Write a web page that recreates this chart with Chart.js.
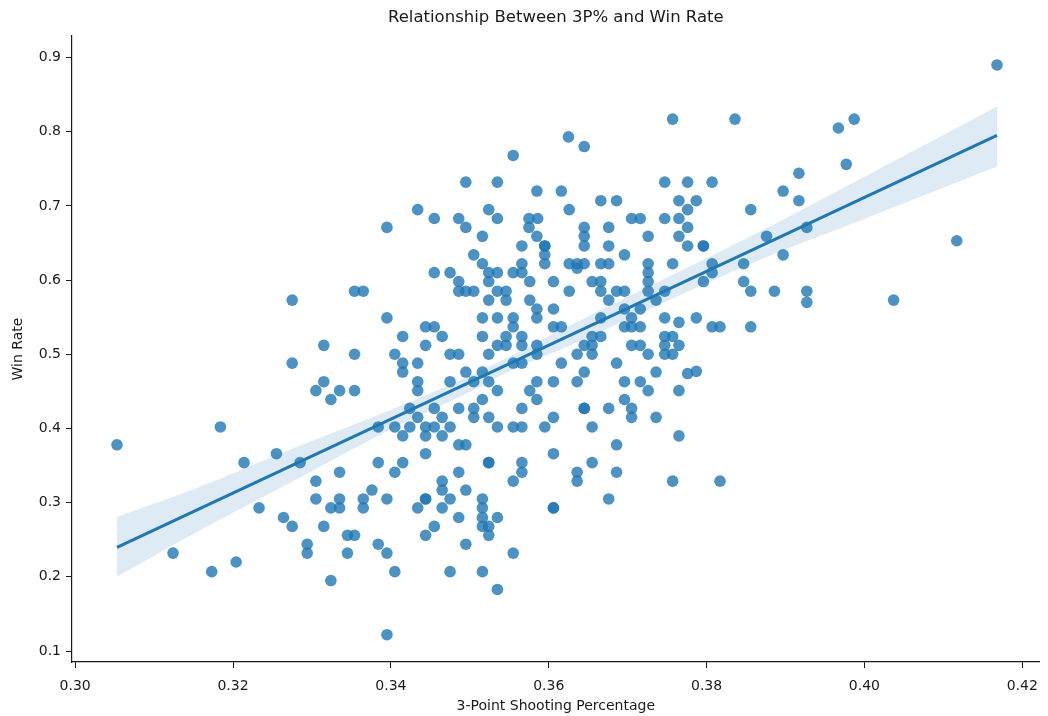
<!DOCTYPE html>
<html>
<head>
<meta charset="utf-8">
<title>Relationship Between 3P% and Win Rate</title>
<script src="https://cdn.jsdelivr.net/npm/chart.js@4.4.1/dist/chart.umd.min.js"></script>
<style>
  html, body { margin: 0; padding: 0; background: #fff; }
  #wrap { width: 1048px; height: 716px; }
</style>
</head>
<body>
<div id="wrap"><canvas id="chart" width="1048" height="716"></canvas></div>
<script>
// one entry per team season: 3-point % and win rate
const threePct = [
  // below 0.334
  0.3275, 0.3315, 0.3275, 0.3315, 0.3305, 0.3335, 0.3324, 0.3184, 0.3053, 0.3214,
  0.3255, 0.3285, 0.3335, 0.3305, 0.3305, 0.3335, 0.3335, 0.3324, 0.3233, 0.3264,
  0.3275, 0.3315, 0.3294, 0.3294, 0.3124, 0.3173, 0.3204, 0.3324,
  // 0.334 - 0.352
  0.3434, 0.3455, 0.3486, 0.3495, 0.3395, 0.3495, 0.3505, 0.3516, 0.3516, 0.3455,
  0.3475, 0.3486, 0.3486, 0.3495, 0.3505, 0.3354, 0.3365, 0.3395, 0.3444, 0.3455,
  0.3415, 0.3465, 0.3516, 0.3516, 0.3444, 0.3405, 0.3354, 0.3475, 0.3486, 0.3415,
  0.3415, 0.3434, 0.3495, 0.3434, 0.3434, 0.3475, 0.3505, 0.3354, 0.3424, 0.3455,
  0.3486, 0.3505, 0.3505, 0.3434, 0.3465, 0.3384, 0.3405, 0.3424, 0.3444, 0.3455,
  0.3475, 0.3415, 0.3444, 0.3465, 0.3486, 0.3495, 0.3444, 0.3384, 0.3415, 0.3405,
  0.3486, 0.3465, 0.3465, 0.3376, 0.3495, 0.3365, 0.3365, 0.3395, 0.3444, 0.3444,
  0.3475, 0.3434, 0.3465, 0.3486, 0.3455, 0.3444, 0.3345, 0.3354, 0.3495, 0.3384,
  0.3395, 0.3345, 0.3405, 0.3475, 0.3395,
  // 0.352 - 0.370, upper half
  0.3645, 0.3625, 0.3555, 0.3535, 0.3585, 0.3616, 0.3666, 0.3686, 0.3524, 0.3626,
  0.3535, 0.3575, 0.3586, 0.3575, 0.3585, 0.3645, 0.3645, 0.3645, 0.3676, 0.3566,
  0.3595, 0.3595, 0.3676, 0.3696, 0.3595, 0.3595, 0.3566, 0.3626, 0.3636, 0.3645,
  0.3636, 0.3666, 0.3676, 0.3524, 0.3535, 0.3555, 0.3566, 0.3524, 0.3576, 0.3606,
  0.3655, 0.3666, 0.3666, 0.3676, 0.3686, 0.3696, 0.3535, 0.3546, 0.3546, 0.3626,
  0.3524, 0.3576, 0.3585, 0.3585, 0.3606, 0.3535, 0.3555, 0.3555, 0.3666, 0.3606,
  0.3616, 0.3546, 0.3566, 0.3655, 0.3666, 0.3696, 0.3696,
  // 0.352 - 0.370, lower half
  0.3535, 0.3546, 0.3566, 0.3524, 0.3585, 0.3585, 0.3555, 0.3566, 0.3616, 0.3645,
  0.3655, 0.3636, 0.3655, 0.3686, 0.3516, 0.3524, 0.3585, 0.3606, 0.3636, 0.3645,
  0.3535, 0.3576, 0.3585, 0.3516, 0.3696, 0.3696, 0.3645, 0.3645, 0.3566, 0.3676,
  0.3524, 0.3606, 0.3535, 0.3555, 0.3566, 0.3595, 0.3655, 0.3686, 0.3606, 0.3524,
  0.3524, 0.3566, 0.3566, 0.3655, 0.3686, 0.3636, 0.3636, 0.3555, 0.3516, 0.3516,
  0.3516, 0.3516, 0.3524, 0.3524, 0.3535, 0.3606, 0.3606, 0.3676, 0.3555, 0.3516,
  0.3535,
  // 0.370 - 0.388
  0.3757, 0.3836, 0.3747, 0.3776, 0.3807, 0.3765, 0.3787, 0.3776, 0.3856, 0.3705,
  0.3716, 0.3747, 0.3765, 0.3776, 0.3726, 0.3765, 0.3776, 0.3796, 0.3796, 0.3876,
  0.3726, 0.3726, 0.3726, 0.3726, 0.3757, 0.3807, 0.3807, 0.3796, 0.3847, 0.3847,
  0.3856, 0.3747, 0.3736, 0.3716, 0.3705, 0.3747, 0.3765, 0.3787, 0.3705, 0.3716,
  0.3807, 0.3817, 0.3856, 0.3747, 0.3757, 0.3747, 0.3765, 0.3705, 0.3716, 0.3747,
  0.3757, 0.3726, 0.3736, 0.3776, 0.3787, 0.3716, 0.3726, 0.3765, 0.3705, 0.3705,
  0.3736, 0.3765, 0.3757, 0.3817,
  // above 0.388
  0.4168, 0.3987, 0.3967, 0.3977, 0.3917, 0.3897, 0.3917, 0.3927, 0.3897, 0.4117,
  0.3886, 0.3927, 0.3927, 0.4037
];

const winRate = [
  // below 0.334
  0.573, 0.512, 0.488, 0.463, 0.451, 0.451, 0.439, 0.402, 0.378, 0.354,
  0.366, 0.354, 0.341, 0.329, 0.305, 0.305, 0.293, 0.293, 0.293, 0.280,
  0.268, 0.268, 0.244, 0.232, 0.232, 0.207, 0.220, 0.195,
  // 0.334 - 0.352
  0.695, 0.683, 0.683, 0.671, 0.671, 0.732, 0.634, 0.659, 0.622, 0.610,
  0.610, 0.598, 0.585, 0.585, 0.585, 0.585, 0.585, 0.549, 0.537, 0.537,
  0.524, 0.524, 0.549, 0.524, 0.512, 0.500, 0.500, 0.500, 0.500, 0.488,
  0.476, 0.488, 0.476, 0.463, 0.451, 0.463, 0.463, 0.451, 0.427, 0.427,
  0.427, 0.427, 0.415, 0.415, 0.415, 0.402, 0.402, 0.402, 0.402, 0.402,
  0.402, 0.390, 0.390, 0.390, 0.378, 0.378, 0.366, 0.354, 0.354, 0.341,
  0.341, 0.329, 0.317, 0.317, 0.317, 0.305, 0.293, 0.305, 0.305, 0.305,
  0.305, 0.293, 0.293, 0.280, 0.268, 0.256, 0.256, 0.256, 0.244, 0.244,
  0.232, 0.232, 0.207, 0.207, 0.122,
  // 0.352 - 0.370, upper half
  0.780, 0.793, 0.768, 0.732, 0.720, 0.720, 0.707, 0.707, 0.695, 0.695,
  0.683, 0.683, 0.683, 0.671, 0.659, 0.671, 0.659, 0.646, 0.671, 0.646,
  0.646, 0.646, 0.646, 0.634, 0.634, 0.622, 0.622, 0.622, 0.622, 0.622,
  0.616, 0.622, 0.622, 0.610, 0.610, 0.610, 0.610, 0.598, 0.598, 0.598,
  0.598, 0.598, 0.585, 0.573, 0.585, 0.585, 0.585, 0.585, 0.573, 0.585,
  0.573, 0.573, 0.561, 0.549, 0.561, 0.549, 0.549, 0.537, 0.549, 0.537,
  0.537, 0.524, 0.524, 0.524, 0.524, 0.561, 0.537,
  // 0.352 - 0.370, lower half
  0.512, 0.512, 0.512, 0.500, 0.512, 0.500, 0.488, 0.488, 0.488, 0.512,
  0.512, 0.500, 0.500, 0.488, 0.476, 0.463, 0.463, 0.463, 0.463, 0.476,
  0.451, 0.451, 0.439, 0.439, 0.463, 0.439, 0.427, 0.427, 0.427, 0.427,
  0.415, 0.415, 0.402, 0.402, 0.402, 0.402, 0.402, 0.378, 0.366, 0.354,
  0.354, 0.354, 0.341, 0.354, 0.341, 0.341, 0.329, 0.329, 0.305, 0.293,
  0.280, 0.268, 0.268, 0.256, 0.280, 0.293, 0.293, 0.305, 0.232, 0.207,
  0.183,
  // 0.370 - 0.388
  0.817, 0.817, 0.732, 0.732, 0.732, 0.707, 0.707, 0.695, 0.695, 0.683,
  0.683, 0.683, 0.683, 0.671, 0.659, 0.659, 0.646, 0.646, 0.646, 0.659,
  0.622, 0.610, 0.598, 0.585, 0.622, 0.622, 0.610, 0.598, 0.622, 0.598,
  0.585, 0.585, 0.573, 0.561, 0.549, 0.549, 0.543, 0.549, 0.537, 0.537,
  0.537, 0.537, 0.537, 0.524, 0.524, 0.512, 0.512, 0.512, 0.512, 0.500,
  0.500, 0.500, 0.476, 0.474, 0.477, 0.463, 0.451, 0.451, 0.427, 0.415,
  0.415, 0.390, 0.329, 0.329,
  // above 0.388
  0.890, 0.817, 0.805, 0.756, 0.744, 0.720, 0.707, 0.671, 0.634, 0.653,
  0.585, 0.585, 0.570, 0.573
];

// regression line ends and the confidence band
const fitX = [0.3053, 0.4168];
const fitY = [0.2397, 0.7951];
const bandX = [0.3053, 0.315, 0.3285, 0.340, 0.350, 0.356, 0.3614, 0.3867, 0.3994, 0.4168];
const bandUpper = [0.281, 0.318, 0.377, 0.425, 0.471, 0.502, 0.532, 0.665, 0.736, 0.834];
const bandLower = [0.200, 0.258, 0.334, 0.399, 0.449, 0.482, 0.506, 0.627, 0.680, 0.753];

const xTicks = [0.30, 0.32, 0.34, 0.36, 0.38, 0.40, 0.42];
const yTicks = [0.1, 0.2, 0.3, 0.4, 0.5, 0.6, 0.7, 0.8, 0.9];

const blue = '#1f77b4';
const ink = '#1a1a1a';
const family = '"DejaVu Sans", sans-serif';
const titleText = 'Relationship Between 3P% and Win Rate';

const zip = (xs, ys) => xs.map((x, i) => ({ x, y: ys[i] }));

// title is centred over the axes, like matplotlib does
const axesTitle = {
  id: 'axesTitle',
  afterDraw(chart) {
    const { ctx, chartArea } = chart;
    ctx.save();
    ctx.font = '16.5px ' + family;
    ctx.fillStyle = ink;
    ctx.textAlign = 'center';
    ctx.textBaseline = 'middle';
    ctx.fillText(titleText, (chartArea.left + chartArea.right) / 2, 18);
    ctx.restore();
  }
};

new Chart(document.getElementById('chart'), {
  type: 'scatter',
  data: {
    datasets: [
      {
        label: 'fit',
        data: zip(fitX, fitY),
        showLine: true,
        borderColor: blue,
        borderWidth: 3,
        pointRadius: 0,
        fill: false,
        order: 0
      },
      {
        label: 'ci upper',
        data: zip(bandX, bandUpper),
        showLine: true,
        cubicInterpolationMode: 'monotone',
        borderWidth: 0,
        borderColor: 'rgba(0,0,0,0)',
        backgroundColor: 'rgba(31,119,180,0.15)',
        pointRadius: 0,
        fill: '+1',
        order: 1
      },
      {
        label: 'ci lower',
        data: zip(bandX, bandLower),
        showLine: true,
        cubicInterpolationMode: 'monotone',
        borderWidth: 0,
        borderColor: 'rgba(0,0,0,0)',
        pointRadius: 0,
        fill: false,
        order: 1
      },
      {
        label: 'teams',
        data: zip(threePct, winRate),
        pointRadius: 5.8,
        pointBackgroundColor: 'rgba(31,119,180,0.8)',
        pointBorderWidth: 0,
        order: 2
      }
    ]
  },
  options: {
    responsive: false,
    devicePixelRatio: 1,
    animation: false,
    events: [],
    layout: { padding: { top: 36, right: 8, left: 0, bottom: 0 } },
    plugins: {
      legend: { display: false },
      tooltip: { enabled: false },
      title: { display: false }
    },
    scales: {
      x: {
        type: 'linear',
        min: 0.2996,
        max: 0.4222,
        afterBuildTicks: axis => { axis.ticks = xTicks.map(v => ({ value: v })); },
        afterFit: scale => { scale.height = 54; },
        ticks: {
          callback: v => v.toFixed(2),
          font: { family, size: 14 },
          color: ink,
          padding: 10,
          maxRotation: 0,
          autoSkip: false
        },
        grid: { drawOnChartArea: false, drawTicks: true, tickLength: 6, tickColor: ink },
        border: { display: true, color: ink, width: 1.2 },
        title: {
          display: true,
          text: '3-Point Shooting Percentage',
          font: { family, size: 14 },
          color: ink,
          padding: { top: 4, bottom: 1 }
        }
      },
      y: {
        type: 'linear',
        min: 0.0852,
        max: 0.929,
        afterBuildTicks: axis => { axis.ticks = yTicks.map(v => ({ value: v })); },
        afterFit: scale => { scale.width = 72; },
        ticks: {
          callback: v => v.toFixed(1),
          font: { family, size: 14 },
          color: ink,
          padding: 5,
          autoSkip: false
        },
        grid: { drawOnChartArea: false, drawTicks: true, tickLength: 6, tickColor: ink },
        border: { display: true, color: ink, width: 1.2 },
        title: {
          display: true,
          text: 'Win Rate',
          font: { family, size: 14 },
          color: ink,
          padding: { top: 10, bottom: 0 }
        }
      }
    }
  },
  plugins: [axesTitle]
});
</script>
</body>
</html>
